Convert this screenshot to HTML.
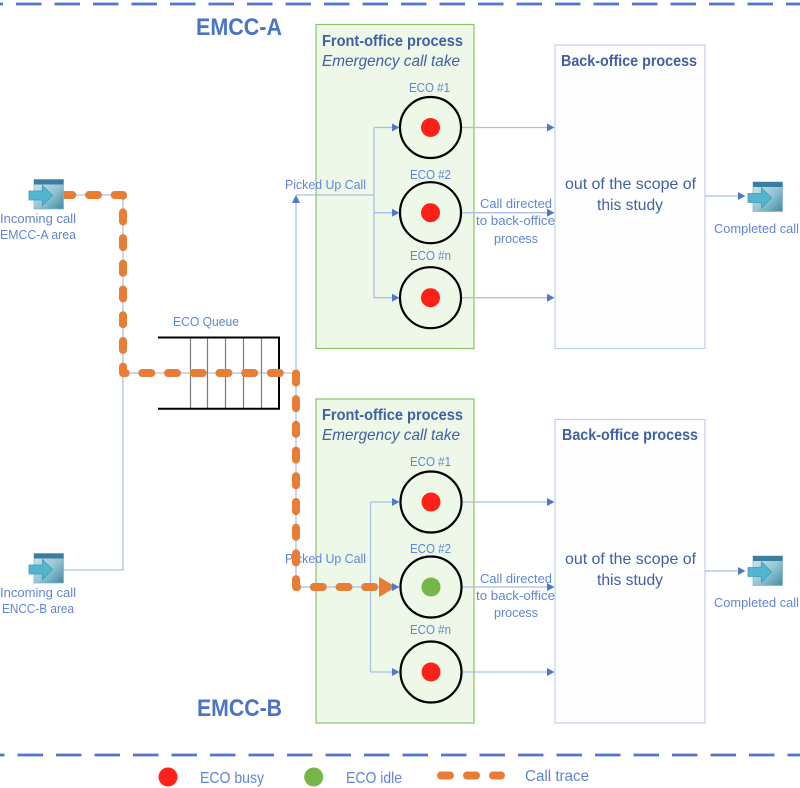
<!DOCTYPE html>
<html>
<head>
<meta charset="utf-8">
<style>
html,body{margin:0;padding:0;background:#fff;width:800px;height:788px;overflow:hidden}
svg{display:block}
text{font-family:"Liberation Sans",sans-serif}
.l{font-size:13px;fill:#5f86d2}
.h{font-size:15.5px;font-weight:bold;fill:#3f60a3}
.i{font-size:16px;font-style:italic;fill:#3f60a3}
.b{font-size:16px;fill:#3f60a3}
.t{font-size:24px;font-weight:bold;fill:#4a74c4}
.g{font-size:16px;fill:#5f86d2}
.c{stroke:#a9bfe8;stroke-width:1.3;fill:none}
.lg{stroke:#bccde9;stroke-width:1.6;fill:none}
.ah{fill:#4f78cc}
.ring{fill:none;stroke:#000;stroke-width:2.2}
</style>
</head>
<body>
<svg width="800" height="788" viewBox="0 0 800 788" xmlns="http://www.w3.org/2000/svg">
<defs>
<linearGradient id="gr" x1="0" y1="0" x2="1" y2="1">
<stop offset="0" stop-color="#d3e8ee"/>
<stop offset="0.55" stop-color="#93c4d3"/>
<stop offset="1" stop-color="#3f8aa5"/>
</linearGradient>
<g id="icon">
<rect x="0" y="0" width="29.5" height="29.5" fill="url(#gr)" stroke="#7fb4c6" stroke-width="0.7"/>
<rect x="0" y="0" width="29.5" height="5" fill="#3b7d9e"/>
<path d="M-5,11.5 H8.5 V6 L18.5,16 L8.5,26 V20.5 H-5 Z" fill="#52b6d1" stroke="#3f9ab8" stroke-width="0.8"/>
</g>
</defs>

<!-- dashed separators -->
<path d="M0,4 H800" stroke="#4f78cc" stroke-width="2.8" stroke-dasharray="25.5 13" stroke-dashoffset="22.5" fill="none"/>
<path d="M0,755 H800" stroke="#4f78cc" stroke-width="2.8" stroke-dasharray="25.5 13" stroke-dashoffset="21" fill="none"/>

<!-- boxes -->
<rect x="316" y="24.5" width="158" height="324" fill="#edf8e9" stroke="#8cc168" stroke-width="1.2"/>
<rect x="316" y="399" width="158" height="324" fill="#edf8e9" stroke="#8cc168" stroke-width="1.2"/>
<rect x="555" y="45" width="150" height="303.500" fill="#fefefe" stroke="#bfd0ee" stroke-width="1.2"/>
<rect x="555" y="419.500" width="150" height="303.500" fill="#fefefe" stroke="#bfd0ee" stroke-width="1.2"/>

<!-- light connectors -->
<path class="lg" d="M63,195 H123 V570 H63"/>
<path class="lg" d="M123,373 H296 V587"/>
<path class="c" d="M296,373 V200"/>
<path class="c" d="M296,195 H374"/>
<path class="c" d="M374,127.500 V297.700"/>
<path class="c" d="M374,127.500 H394 M374,212.700 H394 M374,297.700 H394"/>
<path class="c" d="M370.500,502 V672 M370.500,502 H394 M370.500,672 H394 M296,587 H394"/>
<path class="c" d="M462,127.500 H549 M462,212.700 H549 M462,297.700 H549"/>
<path class="c" d="M462,502 H549 M462,587 H549 M462,672 H549"/>
<path class="c" d="M705,196 H740 M705,571 H740"/>

<!-- queue -->
<path d="M190.500,338 V408 M207.500,338 V408 M225.500,338 V408 M243.500,338 V408 M261.500,338 V408" stroke="#7d7d7d" stroke-width="1.2" fill="none"/>
<path d="M158,337.500 H279 V408.700 H158" stroke="#000" stroke-width="2" fill="none"/>

<!-- circles -->
<g>
<circle class="ring" cx="430.500" cy="127.500" r="30.500"/><circle cx="430.500" cy="127.500" r="9.500" fill="#ff2017"/>
<circle class="ring" cx="430.500" cy="212.700" r="30.500"/><circle cx="430.500" cy="212.700" r="9.500" fill="#ff2017"/>
<circle class="ring" cx="430.500" cy="297.700" r="30.500"/><circle cx="430.500" cy="297.700" r="9.500" fill="#ff2017"/>
<circle class="ring" cx="431" cy="502" r="30.500"/><circle cx="431" cy="502" r="9.500" fill="#ff2017"/>
<circle class="ring" cx="431" cy="587" r="30.500"/><circle cx="431" cy="587" r="9.500" fill="#75b648"/>
<circle class="ring" cx="431" cy="672" r="30.500"/><circle cx="431" cy="672" r="9.500" fill="#ff2017"/>
</g>

<text class="l" x="285" y="563" textLength="81" lengthAdjust="spacingAndGlyphs">Picked Up Call</text>

<!-- call trace -->
<path d="M63.300,195 H123 V373 H296 V587 H379" fill="none" stroke="#e87d37" stroke-width="8" stroke-linecap="round" stroke-linejoin="round" stroke-dasharray="9 16.700"/>
<path d="M379,577 L396,587 L379,597 Z" fill="#e87d37"/>

<!-- arrowheads -->
<path class="ah" d="M296,195 L300,203 H292 Z"/>
<path class="ah" d="M399.500,127.500 L392,123.500 V131.500 Z M399.500,212.700 L392,208.700 V216.700 Z M399.500,297.700 L392,293.700 V301.700 Z"/>
<path class="ah" d="M399.500,502 L392,498 V506 Z M399.500,587 L392,583 V591 Z M399.500,672 L392,668 V676 Z"/>
<path class="ah" d="M554.500,127.500 L547,123.500 V131.500 Z M554.500,212.700 L547,208.700 V216.700 Z M554.500,297.700 L547,293.700 V301.700 Z"/>
<path class="ah" d="M554.500,502 L547,498 V506 Z M554.500,587 L547,583 V591 Z M554.500,672 L547,668 V676 Z"/>
<path class="ah" d="M745.500,196 L738,192 V200 Z M745.500,571 L738,567 V575 Z"/>

<!-- icons -->
<use href="#icon" x="34" y="179.500"/>
<use href="#icon" x="34" y="553.500"/>
<use href="#icon" x="753" y="182"/>
<use href="#icon" x="753" y="556"/>

<!-- text -->
<text class="t" x="196" y="35" textLength="86" lengthAdjust="spacingAndGlyphs">EMCC-A</text>
<text class="t" x="197" y="716" textLength="85" lengthAdjust="spacingAndGlyphs">EMCC-B</text>

<text class="h" x="322" y="46" textLength="141" lengthAdjust="spacingAndGlyphs">Front-office process</text>
<text class="i" x="322" y="66" textLength="138" lengthAdjust="spacingAndGlyphs">Emergency call take</text>
<text class="h" x="322" y="420" textLength="141" lengthAdjust="spacingAndGlyphs">Front-office process</text>
<text class="i" x="322" y="440" textLength="138" lengthAdjust="spacingAndGlyphs">Emergency call take</text>

<text class="h" x="561" y="66" textLength="136" lengthAdjust="spacingAndGlyphs">Back-office process</text>
<text class="h" x="562" y="440" textLength="136" lengthAdjust="spacingAndGlyphs">Back-office process</text>

<text class="b" x="565" y="189" textLength="131" lengthAdjust="spacingAndGlyphs">out of the scope of</text>
<text class="b" x="597" y="210" textLength="66" lengthAdjust="spacingAndGlyphs">this study</text>
<text class="b" x="565" y="564" textLength="131" lengthAdjust="spacingAndGlyphs">out of the scope of</text>
<text class="b" x="597" y="585" textLength="66" lengthAdjust="spacingAndGlyphs">this study</text>

<text class="l" x="409" y="92" textLength="41" lengthAdjust="spacingAndGlyphs">ECO #1</text>
<text class="l" x="410" y="179" textLength="41" lengthAdjust="spacingAndGlyphs">ECO #2</text>
<text class="l" x="410" y="260" textLength="41" lengthAdjust="spacingAndGlyphs">ECO #n</text>
<text class="l" x="410" y="466" textLength="41" lengthAdjust="spacingAndGlyphs">ECO #1</text>
<text class="l" x="410" y="553" textLength="41" lengthAdjust="spacingAndGlyphs">ECO #2</text>
<text class="l" x="410" y="634" textLength="41" lengthAdjust="spacingAndGlyphs">ECO #n</text>

<text class="l" x="285" y="189" textLength="81" lengthAdjust="spacingAndGlyphs">Picked Up Call</text>

<text class="l" x="480" y="208" textLength="72" lengthAdjust="spacingAndGlyphs">Call directed</text>
<text class="l" x="476" y="225" textLength="79" lengthAdjust="spacingAndGlyphs">to back-office</text>
<text class="l" x="494" y="243" textLength="44" lengthAdjust="spacingAndGlyphs">process</text>
<text class="l" x="480" y="583" textLength="72" lengthAdjust="spacingAndGlyphs">Call directed</text>
<text class="l" x="476" y="600" textLength="79" lengthAdjust="spacingAndGlyphs">to back-office</text>
<text class="l" x="494" y="617" textLength="44" lengthAdjust="spacingAndGlyphs">process</text>

<text class="l" x="173" y="326" textLength="66" lengthAdjust="spacingAndGlyphs">ECO Queue</text>

<text class="l" x="0" y="223" textLength="76" lengthAdjust="spacingAndGlyphs">Incoming call</text>
<text class="l" x="0" y="239" textLength="76" lengthAdjust="spacingAndGlyphs">EMCC-A area</text>
<text class="l" x="0" y="597" textLength="76" lengthAdjust="spacingAndGlyphs">Incoming call</text>
<text class="l" x="2" y="613" textLength="72" lengthAdjust="spacingAndGlyphs">ENCC-B area</text>

<text class="l" x="714" y="233" textLength="85" lengthAdjust="spacingAndGlyphs">Completed call</text>
<text class="l" x="714" y="607" textLength="85" lengthAdjust="spacingAndGlyphs">Completed call</text>

<!-- legend -->
<circle cx="168" cy="777" r="9.500" fill="#ff2017"/>
<circle cx="313.700" cy="777" r="9.500" fill="#75b648"/>
<text class="g" x="200" y="783" textLength="64" lengthAdjust="spacingAndGlyphs">ECO busy</text>
<text class="g" x="346" y="783" textLength="56" lengthAdjust="spacingAndGlyphs">ECO idle</text>
<path d="M441,775.500 H450 M467,775.500 H476 M493,775.500 H501" stroke="#e87d37" stroke-width="8" stroke-linecap="round" fill="none"/>
<text class="g" x="525" y="781" textLength="64" lengthAdjust="spacingAndGlyphs">Call trace</text>
</svg>
</body>
</html>
